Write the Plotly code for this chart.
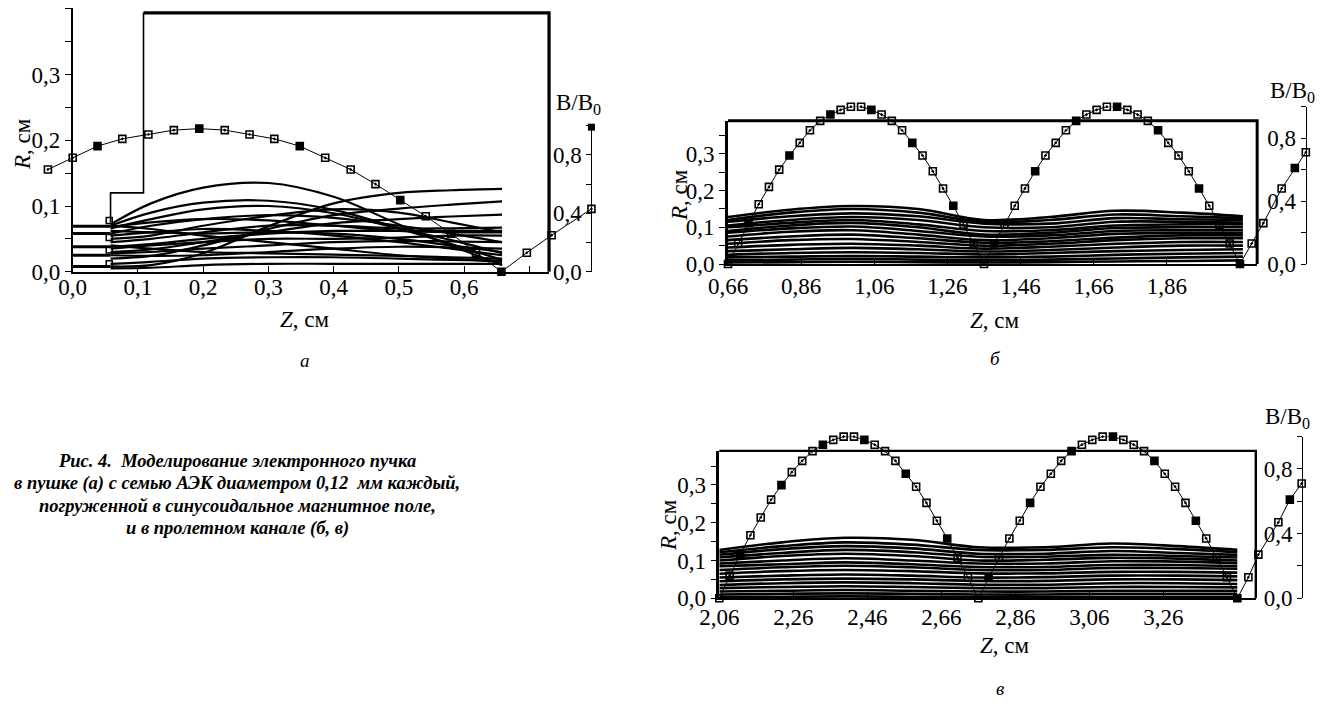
import plotly.graph_objects as go

W, H = 1329, 704
SERIF = "Liberation Serif"

# ---------------- data ----------------
# panel а: electron gun
GUN_Z_TICKS = [0.0, 0.1, 0.2, 0.3, 0.4, 0.5, 0.6]
GUN_Z_LABELS = ["0,0", "0,1", "0,2", "0,3", "0,4", "0,5", "0,6"]
GUN_Z_MINOR = [0.7]
GUN_R_TICKS = [0.0, 0.1, 0.2, 0.3]
GUN_R_LABELS = ["0,0", "0,1", "0,2", "0,3"]
GUN_R_MINOR = [0.05, 0.15, 0.25, 0.35, 0.4]

# drift channel panels б, в
CH_R_TICKS = [0.0, 0.1, 0.2, 0.3]
CH_R_LABELS = ["0,0", "0,1", "0,2", "0,3"]
CH_R_MINOR = [0.05, 0.15, 0.25, 0.35]
CH1_Z_TICKS = [0.66, 0.86, 1.06, 1.26, 1.46, 1.66, 1.86]
CH1_Z_LABELS = ["0,66", "0,86", "1,06", "1,26", "1,46", "1,66", "1,86"]
CH2_Z_TICKS = [2.06, 2.26, 2.46, 2.66, 2.86, 3.06, 3.26]
CH2_Z_LABELS = ["2,06", "2,26", "2,46", "2,66", "2,86", "3,06", "3,26"]

B_TICKS = [0.0, 0.4, 0.8]
B_LABELS = ["0,0", "0,4", "0,8"]
B_MINOR = [0.2, 0.6, 1.0]

# magnetic field B/B0 along the gun
GUN_B_Z = [-0.038, 0.0, 0.038, 0.076, 0.116, 0.155, 0.194, 0.233, 0.271, 0.309, 0.348,
           0.387, 0.426, 0.464, 0.502, 0.541, 0.580, 0.618, 0.657, 0.696, 0.734, 0.795]
GUN_B = [0.70, 0.78, 0.86, 0.91, 0.94, 0.97, 0.98, 0.97, 0.94, 0.91, 0.86,
         0.78, 0.70, 0.60, 0.49, 0.38, 0.26, 0.13, 0.0, 0.13, 0.25, 0.43]
GUN_B_TOP_Z = [0.795]
GUN_B_TOP = [0.99]

# magnetic field B/B0 along the channel, panel б
CH1_B_Z = [0.66, 0.688, 0.716, 0.744, 0.772, 0.80, 0.828, 0.856, 0.884, 0.912, 0.94, 0.968, 0.996,
           1.024, 1.052, 1.08, 1.108, 1.136, 1.164, 1.192, 1.22, 1.248, 1.276, 1.304, 1.332, 1.36,
           1.388, 1.416, 1.444, 1.472, 1.50, 1.528, 1.556, 1.584, 1.612, 1.64, 1.668, 1.696,
           1.724, 1.752, 1.78, 1.808, 1.836, 1.864, 1.892, 1.92, 1.948, 1.976, 2.004, 2.032, 2.06,
           2.092, 2.124, 2.174, 2.21, 2.24]
CH1_B = [0.0, 0.13, 0.26, 0.38, 0.49, 0.60, 0.69, 0.77, 0.85, 0.91, 0.95, 0.98, 1.0,
         1.0, 0.98, 0.95, 0.91, 0.85, 0.77, 0.69, 0.59, 0.48, 0.37, 0.25, 0.13, 0.0,
         0.13, 0.25, 0.37, 0.48, 0.59, 0.69, 0.77, 0.85, 0.91, 0.95, 0.98, 1.0,
         1.0, 0.98, 0.95, 0.91, 0.85, 0.77, 0.69, 0.59, 0.48, 0.37, 0.25, 0.13, 0.0,
         0.13, 0.26, 0.48, 0.61, 0.71]

# magnetic field B/B0 along the channel, panel в
CH2_B_Z = [2.06, 2.088, 2.116, 2.144, 2.172, 2.20, 2.228, 2.256, 2.284, 2.312, 2.34, 2.368, 2.396,
           2.424, 2.452, 2.48, 2.508, 2.536, 2.564, 2.592, 2.62, 2.648, 2.676, 2.704, 2.732, 2.76,
           2.788, 2.816, 2.844, 2.872, 2.90, 2.928, 2.956, 2.984, 3.012, 3.04, 3.068, 3.096,
           3.124, 3.152, 3.18, 3.208, 3.236, 3.264, 3.292, 3.32, 3.348, 3.376, 3.404, 3.432, 3.46,
           3.49, 3.517, 3.571, 3.602, 3.634]
CH2_B = [0.0, 0.14, 0.27, 0.39, 0.50, 0.61, 0.70, 0.78, 0.85, 0.91, 0.95, 0.98, 1.0,
         1.0, 0.98, 0.95, 0.91, 0.85, 0.77, 0.69, 0.59, 0.48, 0.37, 0.25, 0.13, 0.0,
         0.13, 0.25, 0.37, 0.48, 0.59, 0.69, 0.77, 0.85, 0.91, 0.95, 0.98, 1.0,
         1.0, 0.98, 0.95, 0.91, 0.85, 0.77, 0.69, 0.59, 0.48, 0.37, 0.25, 0.13, 0.0,
         0.13, 0.27, 0.47, 0.61, 0.71]

# gun electrodes
GUN_WALL_Z = [0.058, 0.058, 0.1085, 0.1085]
GUN_WALL_R = [0.075, 0.12, 0.12, 0.394]
GUN_BODY_Z = [0.1085, 0.73, 0.73]
GUN_BODY_R = [0.394, 0.394, 0.0]
EMITTER_R = [0.069, 0.058, 0.038, 0.025, 0.008]
EMITTER_Z = [0.0, 0.058]
CATHODE_MARK_Z = [0.056, 0.056, 0.056, 0.056]
CATHODE_MARK_R = [0.078, 0.052, 0.033, 0.012]

# channel walls
CH1_WALL_Z = [0.66, 2.107, 2.107]
CH1_WALL_R = [0.39, 0.39, 0.0]
CH2_WALL_Z = [2.06, 3.51, 3.51]
CH2_WALL_R = [0.39, 0.39, 0.0]

# electron trajectories in the gun, R at the listed Z stations
GUN_TRAJ_Z = [0.058, 0.12, 0.2, 0.3, 0.4, 0.5, 0.58, 0.658]
GUN_TRAJ_R = [
    [0.072, 0.104, 0.128, 0.135, 0.114, 0.072, 0.040, 0.010],
    [0.070, 0.090, 0.105, 0.108, 0.094, 0.066, 0.042, 0.018],
    [0.066, 0.080, 0.095, 0.100, 0.089, 0.066, 0.048, 0.028],
    [0.058, 0.070, 0.080, 0.086, 0.082, 0.070, 0.058, 0.045],
    [0.008, 0.010, 0.028, 0.069, 0.104, 0.120, 0.124, 0.126],
    [0.020, 0.024, 0.040, 0.065, 0.086, 0.096, 0.102, 0.107],
    [0.030, 0.034, 0.045, 0.060, 0.074, 0.080, 0.084, 0.087],
    [0.045, 0.050, 0.060, 0.070, 0.070, 0.066, 0.066, 0.067],
    [0.038, 0.042, 0.050, 0.058, 0.062, 0.062, 0.062, 0.062],
    [0.055, 0.060, 0.065, 0.062, 0.055, 0.045, 0.035, 0.025],
    [0.070, 0.065, 0.055, 0.045, 0.035, 0.025, 0.020, 0.015],
    [0.062, 0.060, 0.058, 0.060, 0.058, 0.050, 0.040, 0.030],
    [0.028, 0.030, 0.035, 0.040, 0.045, 0.047, 0.046, 0.045],
    [0.025, 0.024, 0.025, 0.030, 0.035, 0.038, 0.037, 0.035],
    [0.005, 0.006, 0.010, 0.012, 0.012, 0.012, 0.012, 0.012],
    [0.035, 0.040, 0.045, 0.050, 0.050, 0.052, 0.055, 0.055],
    [0.068, 0.075, 0.080, 0.078, 0.070, 0.062, 0.060, 0.060],
    [0.040, 0.035, 0.030, 0.028, 0.026, 0.024, 0.022, 0.020],
    [0.012, 0.015, 0.020, 0.022, 0.022, 0.020, 0.018, 0.017],
    [0.050, 0.055, 0.070, 0.085, 0.095, 0.090, 0.075, 0.060],
]

# electron trajectories in the channel, panel б
CH1_TRAJ_Z = [0.66, 0.83, 1.0, 1.18, 1.36, 1.54, 1.72, 1.9, 2.068]
CH1_TRAJ_R = [
    [0.128, 0.148, 0.158, 0.150, 0.120, 0.128, 0.145, 0.140, 0.130],
    [0.120, 0.140, 0.150, 0.140, 0.115, 0.120, 0.135, 0.130, 0.125],
    [0.115, 0.130, 0.138, 0.130, 0.110, 0.110, 0.125, 0.122, 0.120],
    [0.105, 0.120, 0.128, 0.120, 0.100, 0.100, 0.115, 0.115, 0.113],
    [0.100, 0.112, 0.120, 0.108, 0.090, 0.092, 0.105, 0.108, 0.108],
    [0.090, 0.105, 0.112, 0.100, 0.080, 0.085, 0.098, 0.100, 0.100],
    [0.085, 0.097, 0.102, 0.090, 0.075, 0.078, 0.090, 0.092, 0.092],
    [0.075, 0.088, 0.092, 0.080, 0.065, 0.070, 0.082, 0.085, 0.085],
    [0.065, 0.075, 0.080, 0.070, 0.058, 0.062, 0.072, 0.078, 0.078],
    [0.055, 0.065, 0.068, 0.060, 0.050, 0.055, 0.065, 0.070, 0.070],
    [0.045, 0.052, 0.055, 0.050, 0.042, 0.047, 0.055, 0.060, 0.060],
    [0.035, 0.040, 0.044, 0.040, 0.034, 0.038, 0.045, 0.050, 0.050],
    [0.025, 0.030, 0.032, 0.030, 0.026, 0.030, 0.035, 0.038, 0.040],
    [0.018, 0.020, 0.022, 0.020, 0.018, 0.020, 0.025, 0.028, 0.030],
    [0.010, 0.012, 0.014, 0.012, 0.010, 0.012, 0.015, 0.018, 0.020],
    [0.004, 0.005, 0.006, 0.005, 0.004, 0.005, 0.007, 0.008, 0.010],
]

# electron trajectories in the channel, panel в
CH2_TRAJ_Z = [2.06, 2.23, 2.4, 2.58, 2.76, 2.94, 3.12, 3.3, 3.46]
CH2_TRAJ_R = [
    [0.128, 0.148, 0.160, 0.155, 0.135, 0.135, 0.145, 0.138, 0.128],
    [0.122, 0.138, 0.148, 0.142, 0.128, 0.128, 0.135, 0.130, 0.122],
    [0.115, 0.130, 0.138, 0.132, 0.118, 0.118, 0.125, 0.120, 0.115],
    [0.108, 0.120, 0.128, 0.122, 0.110, 0.110, 0.115, 0.112, 0.108],
    [0.100, 0.112, 0.118, 0.112, 0.100, 0.102, 0.107, 0.105, 0.100],
    [0.092, 0.100, 0.106, 0.100, 0.092, 0.092, 0.098, 0.097, 0.093],
    [0.085, 0.090, 0.095, 0.090, 0.083, 0.083, 0.088, 0.088, 0.085],
    [0.075, 0.082, 0.086, 0.082, 0.075, 0.075, 0.080, 0.080, 0.078],
    [0.065, 0.072, 0.075, 0.072, 0.066, 0.066, 0.070, 0.070, 0.068],
    [0.055, 0.060, 0.063, 0.060, 0.055, 0.056, 0.060, 0.060, 0.058],
    [0.045, 0.050, 0.052, 0.050, 0.046, 0.046, 0.050, 0.050, 0.048],
    [0.035, 0.040, 0.042, 0.040, 0.036, 0.036, 0.040, 0.040, 0.038],
    [0.027, 0.030, 0.032, 0.030, 0.027, 0.027, 0.030, 0.030, 0.029],
    [0.018, 0.020, 0.022, 0.020, 0.018, 0.018, 0.020, 0.020, 0.020],
    [0.010, 0.012, 0.013, 0.012, 0.010, 0.010, 0.012, 0.012, 0.012],
    [0.003, 0.004, 0.005, 0.004, 0.003, 0.003, 0.004, 0.004, 0.004],
]

CAPTION_LINES = [
    "Рис. 4.\u00a0 Моделирование электронного пучка",
    "в пушке (а) с семью АЭК диаметром 0,12\u00a0 мм каждый,",
    "погруженной в синусоидальное магнитное поле,",
    "и в пролетном канале (б, в)",
]

# ---------------- panel geometry (pixels) ----------------
# x0, y0: pixel of (z0, R=0); kz, kr, kb: pixels per unit of Z, R and B/B0
GEOM = {
    "a": dict(z0=0.0, x0=72.7, kz=652.5, z_end=0.73, y0=271.7, kr=657.0, r_top=0.401,
              kb=146.0, b_axis_z=0.795, r_lw=1.5, x_lw=1.5, z_standoff=-6),
    "b": dict(z0=0.66, x0=728.0, kz=365.7, z_end=2.107, y0=264.0, kr=367.0, r_top=0.39,
              kb=157.3, b_axis_z=2.24, r_lw=2.6, x_lw=2.0, z_standoff=0),
    "c": dict(z0=2.06, x0=719.3, kz=370.0, z_end=3.51, y0=598.3, kr=378.0, r_top=0.39,
              kb=161.7, b_axis_z=3.636, r_lw=2.6, x_lw=2.0, z_standoff=-3),
}
# axis ids: visible Z, visible R, wide (hidden) Z, wide (hidden) R, visible B
IDS = {
    "a": dict(xv="x", yr="y", xw="x2", yw="y2", yb="y3"),
    "b": dict(xv="x3", yr="y4", xw="x4", yw="y5", yb="y6"),
    "c": dict(xv="x5", yr="y7", xw="x6", yw="y8", yb="y9"),
}


def akey(aid):
    return aid[0] + "axis" + aid[1:]


def px_x(px):
    return px / W


def px_y(py):
    return 1 - py / H


TICKFONT = dict(family=SERIF, size=23, color="black")
layout = {}


def build_axes(name, z_ticks, z_labels, z_minor, r_ticks, r_labels, r_minor):
    g, ids = GEOM[name], IDS[name]
    x0, y0 = g["x0"], g["y0"]
    x_end = x0 + (g["z_end"] - g["z0"]) * g["kz"]
    base = dict(showgrid=False, zeroline=False, fixedrange=True, automargin=False,
                tickfont=TICKFONT, tickcolor="black", showline=True, linecolor="black",
                tickmode="array")
    layout[akey(ids["xv"])] = dict(
        base, domain=[px_x(x0), px_x(x_end)], range=[g["z0"], g["z_end"]],
        anchor=ids["yr"], tickvals=z_ticks, ticktext=z_labels,
        ticks="inside", ticklen=6, tickwidth=1.3, linewidth=g["x_lw"],
        ticklabelstandoff=g["z_standoff"],
        minor=dict(tickmode="array", tickvals=z_minor, ticks="inside", ticklen=6,
                   tickwidth=1.3, tickcolor="black"))
    layout[akey(ids["yr"])] = dict(
        base, domain=[px_y(y0), px_y(y0 - g["r_top"] * g["kr"])], range=[0, g["r_top"]],
        anchor=ids["xv"], tickvals=r_ticks, ticktext=r_labels,
        ticks="outside", ticklen=6, tickwidth=1.3, linewidth=g["r_lw"],
        minor=dict(tickmode="array", tickvals=r_minor, ticks="outside", ticklen=6,
                   tickwidth=1.3, tickcolor="black"))
    b_px = x0 + (g["b_axis_z"] - g["z0"]) * g["kz"]
    layout[akey(ids["yb"])] = dict(
        base, domain=[px_y(y0), px_y(y0 - g["kb"])], range=[0, 1.0],
        anchor="free", position=px_x(b_px), side="left",
        tickvals=B_TICKS, ticktext=B_LABELS,
        ticks="outside", ticklen=5, tickwidth=1.3, linewidth=1.4,
        minor=dict(tickmode="array", tickvals=B_MINOR, ticks="outside", ticklen=5,
                   tickwidth=1.3, tickcolor="black"))
    layout[akey(ids["xw"])] = dict(
        visible=False, fixedrange=True, automargin=False, domain=[0, 1], anchor=ids["yw"],
        range=[g["z0"] - x0 / g["kz"], g["z0"] + (W - x0) / g["kz"]])
    layout[akey(ids["yw"])] = dict(
        visible=False, fixedrange=True, automargin=False, domain=[0, 1], anchor=ids["xw"],
        range=[(y0 - H) / g["kr"], y0 / g["kr"]])


build_axes("a", GUN_Z_TICKS, GUN_Z_LABELS, GUN_Z_MINOR, GUN_R_TICKS, GUN_R_LABELS, GUN_R_MINOR)
build_axes("b", CH1_Z_TICKS, CH1_Z_LABELS, [], CH_R_TICKS, CH_R_LABELS, CH_R_MINOR)
build_axes("c", CH2_Z_TICKS, CH2_Z_LABELS, [], CH_R_TICKS, CH_R_LABELS, CH_R_MINOR)

fig = go.Figure()


def line(name, z, r, width, shape="linear", xa="xw", ya="yw"):
    ids = IDS[name]
    fig.add_trace(go.Scatter(
        x=z, y=r, mode="lines", xaxis=ids[xa], yaxis=ids[ya],
        line=dict(color="black", width=width, shape=shape, smoothing=1.0),
        showlegend=False, hoverinfo="skip"))


def field(name, z, b):
    ids = IDS[name]
    symbols = ["square" if i % 4 == 2 else "square-open-dot" for i in range(len(z))]
    fig.add_trace(go.Scatter(
        x=z, y=b, mode="lines+markers", xaxis=ids["xw"], yaxis=ids["yb"],
        line=dict(color="black", width=1), cliponaxis=False,
        marker=dict(symbol=symbols, size=7, color="black",
                    line=dict(color="black", width=1.6)),
        showlegend=False, hoverinfo="skip"))


# panel а
for r in GUN_TRAJ_R:
    line("a", GUN_TRAJ_Z, r, 2.2, shape="spline", xa="xv", ya="yr")
for r in EMITTER_R:
    line("a", EMITTER_Z, [r, r], 3.0, xa="xv", ya="yr")
line("a", GUN_WALL_Z, GUN_WALL_R, 1.6)
line("a", GUN_BODY_Z, GUN_BODY_R, 3.2)
fig.add_trace(go.Scatter(
    x=CATHODE_MARK_Z, y=CATHODE_MARK_R, mode="markers", xaxis=IDS["a"]["xw"],
    yaxis=IDS["a"]["yw"], marker=dict(symbol="square-open", size=6, color="black",
                                      line=dict(color="black", width=1.5)),
    showlegend=False, hoverinfo="skip"))
field("a", GUN_B_Z, GUN_B)
fig.add_trace(go.Scatter(
    x=GUN_B_TOP_Z, y=GUN_B_TOP, mode="markers", xaxis=IDS["a"]["xw"],
    yaxis=IDS["a"]["yb"], cliponaxis=False,
    marker=dict(symbol="square", size=7, color="black"),
    showlegend=False, hoverinfo="skip"))

# panel б
for r in CH1_TRAJ_R:
    line("b", CH1_TRAJ_Z, r, 2.6, shape="spline", xa="xv", ya="yr")
line("b", CH1_WALL_Z, CH1_WALL_R, 3.0)
field("b", CH1_B_Z, CH1_B)

# panel в
for r in CH2_TRAJ_R:
    line("c", CH2_TRAJ_Z, r, 2.6, shape="spline", xa="xv", ya="yr")
line("c", CH2_WALL_Z, CH2_WALL_R, 2.4)
field("c", CH2_B_Z, CH2_B)

# ---------------- text ----------------
ann = []


def text(x, y, s, size=23, angle=0, **kw):
    ann.append(dict(x=px_x(x), y=px_y(y), xref="paper", yref="paper", text=s,
                    showarrow=False, textangle=angle, xanchor="center", yanchor="middle",
                    font=dict(family=SERIF, size=size, color="black"), **kw))


text(22, 144, "<i>R</i>, см", angle=-90)
text(679, 195, "<i>R</i>, см", angle=-90)
text(668, 525, "<i>R</i>, см", angle=-90)
text(305, 319, "<i>Z</i>, см")
text(995, 320, "<i>Z</i>, см")
text(1005, 645, "<i>Z</i>, см")
text(578, 104, "B/B<sub>0</sub>")
text(1292, 92, "B/B<sub>0</sub>")
text(1287, 418, "B/B<sub>0</sub>")
text(305, 360, "<i>а</i>", size=19)
text(995, 358, "<i>б</i>", size=19)
text(1000, 688, "<i>в</i>", size=19)
for y, s in zip([461, 483, 506, 528], CAPTION_LINES):
    text(237, y, "<b><i>" + s + "</i></b>", size=18.5)

fig.update_layout(
    width=W, height=H, autosize=False,
    margin=dict(l=0, r=0, t=0, b=0, autoexpand=False),
    paper_bgcolor="white", plot_bgcolor="rgba(0,0,0,0)",
    showlegend=False, annotations=ann, **layout)

fig.write_html("out.html")
